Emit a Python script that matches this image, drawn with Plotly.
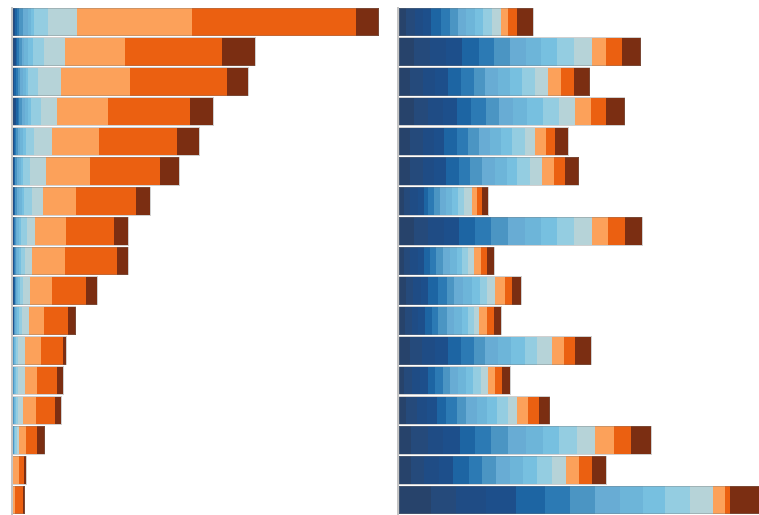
import plotly.graph_objects as go

# ---- categories (17 rows, top to bottom) and 15 stacked series ----
categories = ["R01", "R02", "R03", "R04", "R05", "R06", "R07", "R08", "R09",
              "R10", "R11", "R12", "R13", "R14", "R15", "R16", "R17"]
series_names = ["S01", "S02", "S03", "S04", "S05", "S06", "S07", "S08",
                "S09", "S10", "S11", "S12", "S13", "S14", "S15"]
series_colors = ["#27436b", "#254a7b", "#1f4c85", "#1d4f8b", "#1d65a3",
                 "#2c7ab4", "#4b95c3", "#68acd4", "#6db5d9", "#77c0e0",
                 "#94cde1", "#b6d3d8", "#fca15a", "#eb6011", "#7b2e12"]

# ---- left panel: one list per row, values for S01..S15 ----
left_r01 = [0.5, 0.5, 0.6, 0.7, 2.0, 2.4, 4.0, 4.3, 3.2, 3.5, 14.0, 28.6, 114.7, 164.0, 23.3]
left_r02 = [0.6, 0.7, 0.9, 1.1, 1.6, 1.7, 2.2, 2.2, 4.5, 5.2, 11.0, 20.3, 60.0, 97.7, 33.0]
left_r03 = [0.4, 0.4, 0.5, 0.6, 1.4, 1.7, 2.5, 2.6, 2.7, 2.9, 9.3, 23.3, 69.0, 96.7, 21.6]
left_r04 = [0.8, 0.9, 1.0, 1.0, 1.5, 1.5, 2.7, 2.8, 3.0, 3.1, 10.0, 16.2, 50.8, 82.4, 22.6]
left_r05 = [0.4, 0.4, 0.5, 0.5, 0.8, 0.9, 1.9, 2.0, 2.8, 3.1, 7.7, 18.3, 47.0, 78.4, 21.6]
left_r06 = [0.3, 0.3, 0.4, 0.4, 0.6, 0.7, 1.5, 1.6, 2.0, 2.2, 7.7, 16.0, 44.0, 69.3, 19.3]
left_r07 = [0.3, 0.3, 0.4, 0.4, 0.7, 0.8, 1.7, 1.8, 2.5, 2.8, 7.8, 10.8, 32.7, 60.0, 14.7]
left_r08 = [0.2, 0.2, 0.3, 0.3, 0.5, 0.6, 1.3, 1.4, 1.7, 1.8, 5.7, 8.7, 31.0, 47.3, 14.3]
left_r09 = [0.2, 0.2, 0.3, 0.3, 0.5, 0.6, 1.2, 1.3, 1.6, 2.1, 4.0, 6.7, 33.3, 52.4, 10.6]
left_r10 = [0.3, 0.3, 0.4, 0.4, 0.6, 0.6, 0.9, 1.0, 1.2, 1.4, 3.2, 7.4, 21.6, 34.4, 11.0]
left_r11 = [0.2, 0.2, 0.3, 0.3, 0.4, 0.5, 0.8, 0.9, 1.1, 1.5, 3.5, 6.3, 15.3, 24.0, 7.7]
left_r12 = [0.1, 0.1, 0.1, 0.2, 0.2, 0.2, 0.4, 0.4, 0.5, 0.6, 2.5, 6.7, 16.0, 22.3, 3.4]
left_r13 = [0.1, 0.1, 0.1, 0.2, 0.2, 0.2, 0.4, 0.4, 0.5, 0.6, 2.5, 6.7, 12.7, 20.0, 5.6]
left_r14 = [0.1, 0.1, 0.1, 0.2, 0.2, 0.2, 0.4, 0.4, 0.5, 0.6, 2.5, 5.0, 12.7, 19.0, 6.7]
left_r15 = [0.1, 0.1, 0.1, 0.1, 0.2, 0.2, 0.3, 0.3, 0.4, 0.5, 2.0, 2.0, 7.4, 11.0, 7.3]
left_r16 = [0.02, 0.02, 0.02, 0.02, 0.02, 0.02, 0.02, 0.02, 0.02, 0.02, 0.1, 0.1, 5.7, 5.3, 2.3]
left_r17 = [0.02, 0.02, 0.02, 0.02, 0.02, 0.02, 0.02, 0.02, 0.02, 0.02, 0.05, 0.1, 1.8, 8.3, 1.7]

# ---- right panel: one list per row, values for S01..S15 ----
right_r01 = [22, 25, 25, 25, 28, 27, 25, 25, 25, 25, 27, 26, 22, 28, 47]
right_r02 = [44, 48, 50, 48, 50, 44, 48, 48, 47, 48, 49, 54, 44, 48, 55]
right_r03 = [34, 38, 35, 40, 38, 39, 33, 40, 35, 38, 39, 38, 40, 37, 48]
right_r04 = [44, 43, 45, 43, 42, 45, 38, 42, 43, 47, 48, 49, 48, 45, 55]
right_r05 = [34, 38, 32, 31, 40, 32, 33, 32, 35, 32, 38, 32, 33, 27, 38]
right_r06 = [34, 38, 32, 38, 38, 32, 38, 37, 37, 31, 39, 36, 34, 33, 42]
right_r07 = [16, 17, 25, 18, 12, 18, 17, 17, 20, 18, 18, 22, 15, 17, 18]
right_r08 = [44, 43, 47, 46, 47, 50, 50, 50, 50, 48, 49, 54, 49, 50, 53]
right_r09 = [16, 17, 23, 20, 17, 17, 23, 20, 20, 15, 18, 20, 20, 17, 22]
right_r10 = [21, 22, 23, 22, 28, 27, 23, 27, 27, 23, 20, 25, 30, 20, 28]
right_r11 = [18, 20, 20, 20, 20, 20, 25, 23, 22, 20, 18, 15, 22, 22, 21]
right_r12 = [34, 36, 37, 40, 38, 39, 33, 40, 40, 40, 37, 45, 36, 34, 48]
right_r13 = [16, 22, 25, 23, 22, 23, 22, 23, 24, 23, 23, 20, 22, 22, 23]
right_r14 = [22, 32, 30, 30, 28, 32, 28, 32, 30, 30, 33, 28, 32, 32, 33]
right_r15 = [37, 50, 45, 52, 45, 48, 50, 53, 52, 48, 55, 54, 55, 53, 60]
right_r16 = [37, 38, 44, 43, 47, 41, 40, 42, 40, 42, 45, 43, 38, 39, 43]
right_r17 = [97, 75, 90, 90, 85, 75, 75, 75, 70, 65, 75, 70, 35, 15, 100]

left_rows = [left_r01, left_r02, left_r03, left_r04, left_r05, left_r06, left_r07,
             left_r08, left_r09, left_r10, left_r11, left_r12, left_r13, left_r14,
             left_r15, left_r16, left_r17]
right_rows = [right_r01, right_r02, right_r03, right_r04, right_r05, right_r06,
              right_r07, right_r08, right_r09, right_r10, right_r11, right_r12,
              right_r13, right_r14, right_r15, right_r16, right_r17]

LEFT_MAX = 373
RIGHT_MAX = 1080

fig = go.Figure()
for j, name in enumerate(series_names):
    fig.add_trace(go.Bar(
        x=[row[j] for row in left_rows], y=categories, orientation="h",
        name=name, marker=dict(color=series_colors[j], line=dict(width=0)),
        xaxis="x", yaxis="y", showlegend=False))
    fig.add_trace(go.Bar(
        x=[row[j] for row in right_rows], y=categories, orientation="h",
        name=name, marker=dict(color=series_colors[j], line=dict(width=0)),
        xaxis="x2", yaxis="y2", showlegend=False))

# faint outline around each whole bar
outline = dict(color="rgba(0,0,0,0)", line=dict(color="rgba(120,120,120,0.35)", width=1))
fig.add_trace(go.Bar(x=[sum(r) for r in left_rows], y=categories, orientation="h",
                     marker=outline, xaxis="x3", yaxis="y", showlegend=False,
                     hoverinfo="skip"))
fig.add_trace(go.Bar(x=[sum(r) for r in right_rows], y=categories, orientation="h",
                     marker=outline, xaxis="x4", yaxis="y2", showlegend=False,
                     hoverinfo="skip"))

W, H = 759, 515
hidden_x = dict(showgrid=False, zeroline=False, showticklabels=False, ticks="",
                showline=False, fixedrange=True)
ycommon = dict(type="category", categoryorder="array", categoryarray=categories,
               autorange="reversed", showgrid=False, zeroline=False,
               showticklabels=False, ticks="", showline=True,
               linecolor="#c4c4c4", linewidth=1.5, domain=[0, 1])

fig.update_layout(
    width=W, height=H,
    margin=dict(l=0, r=0, t=7, b=0, pad=0),
    paper_bgcolor="white", plot_bgcolor="white",
    barmode="stack", bargap=0.07,
    xaxis=dict(domain=[12.7 / W, (12.7 + LEFT_MAX) / W], range=[0, LEFT_MAX],
               anchor="y", **hidden_x),
    xaxis2=dict(domain=[399.0 / W, 1.0], range=[0, RIGHT_MAX], anchor="y2", **hidden_x),
    xaxis3=dict(overlaying="x", range=[0, LEFT_MAX], anchor="y", visible=False),
    xaxis4=dict(overlaying="x2", range=[0, RIGHT_MAX], anchor="y2", visible=False),
    yaxis=dict(anchor="x", **ycommon),
    yaxis2=dict(anchor="x2", **ycommon),
)

fig.write_html(
    "out.html",
    config={"displayModeBar": False},
    post_script="document.body.style.margin='0';document.body.style.overflow='hidden';",
)
